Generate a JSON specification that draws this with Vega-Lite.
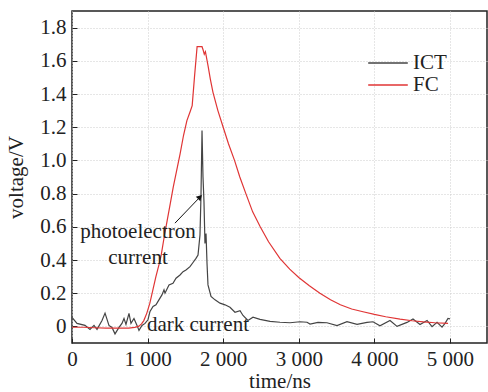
{
  "$schema": "https://vega.github.io/schema/vega-lite/v6.json",
  "width": 415,
  "height": 332,
  "autosize": {"type": "none"},
  "padding": {"left": 72, "top": 11, "right": 1, "bottom": 49},
  "background": "white",
  "config": {
    "font": "Times New Roman, Liberation Serif, serif",
    "view": {"stroke": "#222", "strokeWidth": 1.5},
    "axis": {
      "labelFont": "Times New Roman, Liberation Serif, serif",
      "titleFont": "Times New Roman, Liberation Serif, serif",
      "labelFontSize": 21,
      "titleFontSize": 21,
      "titleFontWeight": "normal",
      "labelColor": "#222",
      "titleColor": "#222",
      "labelOverlap": false,
      "labelFlush": false,
      "domain": false,
      "tickColor": "#222",
      "tickSize": -5,
      "gridColor": "#cccccc",
      "gridDash": [1, 2],
      "gridWidth": 1
    },
    "legend": {
      "labelFont": "Times New Roman, Liberation Serif, serif",
      "labelFontSize": 21,
      "labelColor": "#222"
    }
  },
  "datasets": {
    "curves": [
      {"t": 0, "v": 0.054, "s": "ICT"},
      {"t": 66, "v": 0.018, "s": "ICT"},
      {"t": 172, "v": 0.006, "s": "ICT"},
      {"t": 238, "v": -0.018, "s": "ICT"},
      {"t": 291, "v": 0.006, "s": "ICT"},
      {"t": 331, "v": -0.018, "s": "ICT"},
      {"t": 397, "v": 0.036, "s": "ICT"},
      {"t": 437, "v": 0.08, "s": "ICT"},
      {"t": 489, "v": 0.006, "s": "ICT"},
      {"t": 529, "v": -0.006, "s": "ICT"},
      {"t": 569, "v": -0.045, "s": "ICT"},
      {"t": 622, "v": -0.006, "s": "ICT"},
      {"t": 661, "v": 0.018, "s": "ICT"},
      {"t": 688, "v": 0.048, "s": "ICT"},
      {"t": 714, "v": 0.012, "s": "ICT"},
      {"t": 754, "v": 0.078, "s": "ICT"},
      {"t": 780, "v": 0.018, "s": "ICT"},
      {"t": 820, "v": 0.048, "s": "ICT"},
      {"t": 860, "v": 0.006, "s": "ICT"},
      {"t": 886, "v": -0.024, "s": "ICT"},
      {"t": 926, "v": 0.006, "s": "ICT"},
      {"t": 966, "v": 0.018, "s": "ICT"},
      {"t": 1005, "v": 0.04, "s": "ICT"},
      {"t": 1032, "v": 0.09, "s": "ICT"},
      {"t": 1072, "v": 0.12, "s": "ICT"},
      {"t": 1111, "v": 0.13, "s": "ICT"},
      {"t": 1150, "v": 0.16, "s": "ICT"},
      {"t": 1190, "v": 0.19, "s": "ICT"},
      {"t": 1217, "v": 0.22, "s": "ICT"},
      {"t": 1230, "v": 0.2, "s": "ICT"},
      {"t": 1283, "v": 0.25, "s": "ICT"},
      {"t": 1336, "v": 0.26, "s": "ICT"},
      {"t": 1376, "v": 0.29, "s": "ICT"},
      {"t": 1429, "v": 0.31, "s": "ICT"},
      {"t": 1469, "v": 0.33, "s": "ICT"},
      {"t": 1508, "v": 0.34, "s": "ICT"},
      {"t": 1561, "v": 0.36, "s": "ICT"},
      {"t": 1601, "v": 0.385, "s": "ICT"},
      {"t": 1640, "v": 0.41, "s": "ICT"},
      {"t": 1667, "v": 0.43, "s": "ICT"},
      {"t": 1693, "v": 0.55, "s": "ICT"},
      {"t": 1706, "v": 0.78, "s": "ICT"},
      {"t": 1720, "v": 1.18, "s": "ICT"},
      {"t": 1733, "v": 0.9, "s": "ICT"},
      {"t": 1746, "v": 0.75, "s": "ICT"},
      {"t": 1759, "v": 0.5, "s": "ICT"},
      {"t": 1773, "v": 0.56, "s": "ICT"},
      {"t": 1786, "v": 0.38, "s": "ICT"},
      {"t": 1799, "v": 0.25, "s": "ICT"},
      {"t": 1839, "v": 0.18, "s": "ICT"},
      {"t": 1892, "v": 0.16, "s": "ICT"},
      {"t": 1958, "v": 0.14, "s": "ICT"},
      {"t": 2024, "v": 0.13, "s": "ICT"},
      {"t": 2090, "v": 0.115, "s": "ICT"},
      {"t": 2156, "v": 0.085, "s": "ICT"},
      {"t": 2223, "v": 0.095, "s": "ICT"},
      {"t": 2262, "v": 0.066, "s": "ICT"},
      {"t": 2328, "v": 0.036, "s": "ICT"},
      {"t": 2394, "v": 0.055, "s": "ICT"},
      {"t": 2487, "v": 0.042, "s": "ICT"},
      {"t": 2620, "v": 0.03, "s": "ICT"},
      {"t": 2752, "v": 0.025, "s": "ICT"},
      {"t": 2884, "v": 0.022, "s": "ICT"},
      {"t": 3016, "v": 0.028, "s": "ICT"},
      {"t": 3109, "v": 0.025, "s": "ICT"},
      {"t": 3149, "v": 0.014, "s": "ICT"},
      {"t": 3255, "v": 0.024, "s": "ICT"},
      {"t": 3373, "v": 0.022, "s": "ICT"},
      {"t": 3506, "v": 0.005, "s": "ICT"},
      {"t": 3638, "v": 0.028, "s": "ICT"},
      {"t": 3771, "v": 0.012, "s": "ICT"},
      {"t": 3903, "v": 0.024, "s": "ICT"},
      {"t": 3982, "v": 0.028, "s": "ICT"},
      {"t": 4074, "v": 0.004, "s": "ICT"},
      {"t": 4207, "v": 0.036, "s": "ICT"},
      {"t": 4300, "v": 0.0, "s": "ICT"},
      {"t": 4432, "v": 0.024, "s": "ICT"},
      {"t": 4511, "v": 0.045, "s": "ICT"},
      {"t": 4604, "v": 0.012, "s": "ICT"},
      {"t": 4697, "v": 0.036, "s": "ICT"},
      {"t": 4763, "v": -0.002, "s": "ICT"},
      {"t": 4829, "v": 0.024, "s": "ICT"},
      {"t": 4895, "v": -0.005, "s": "ICT"},
      {"t": 4935, "v": 0.018, "s": "ICT"},
      {"t": 4974, "v": 0.048, "s": "ICT"},
      {"t": 5000, "v": 0.045, "s": "ICT"},
      {"t": 0, "v": -0.005, "s": "FC"},
      {"t": 150, "v": -0.005, "s": "FC"},
      {"t": 300, "v": -0.008, "s": "FC"},
      {"t": 450, "v": -0.01, "s": "FC"},
      {"t": 600, "v": -0.01, "s": "FC"},
      {"t": 750, "v": -0.01, "s": "FC"},
      {"t": 830, "v": -0.006, "s": "FC"},
      {"t": 880, "v": 0.0, "s": "FC"},
      {"t": 920, "v": 0.015, "s": "FC"},
      {"t": 950, "v": 0.035, "s": "FC"},
      {"t": 990, "v": 0.08, "s": "FC"},
      {"t": 1030, "v": 0.14, "s": "FC"},
      {"t": 1070, "v": 0.22, "s": "FC"},
      {"t": 1110, "v": 0.3, "s": "FC"},
      {"t": 1150, "v": 0.37, "s": "FC"},
      {"t": 1180, "v": 0.43, "s": "FC"},
      {"t": 1220, "v": 0.54, "s": "FC"},
      {"t": 1260, "v": 0.64, "s": "FC"},
      {"t": 1300, "v": 0.74, "s": "FC"},
      {"t": 1340, "v": 0.84, "s": "FC"},
      {"t": 1385, "v": 0.94, "s": "FC"},
      {"t": 1430, "v": 1.04, "s": "FC"},
      {"t": 1475, "v": 1.15, "s": "FC"},
      {"t": 1520, "v": 1.24, "s": "FC"},
      {"t": 1560, "v": 1.29, "s": "FC"},
      {"t": 1590, "v": 1.33, "s": "FC"},
      {"t": 1620, "v": 1.5, "s": "FC"},
      {"t": 1655, "v": 1.685, "s": "FC"},
      {"t": 1720, "v": 1.685, "s": "FC"},
      {"t": 1735, "v": 1.665, "s": "FC"},
      {"t": 1750, "v": 1.64, "s": "FC"},
      {"t": 1765, "v": 1.655, "s": "FC"},
      {"t": 1800, "v": 1.57, "s": "FC"},
      {"t": 1830, "v": 1.49, "s": "FC"},
      {"t": 1865, "v": 1.41, "s": "FC"},
      {"t": 1930, "v": 1.3, "s": "FC"},
      {"t": 2000, "v": 1.2, "s": "FC"},
      {"t": 2070, "v": 1.1, "s": "FC"},
      {"t": 2150, "v": 1.0, "s": "FC"},
      {"t": 2220, "v": 0.9, "s": "FC"},
      {"t": 2300, "v": 0.8, "s": "FC"},
      {"t": 2390, "v": 0.69, "s": "FC"},
      {"t": 2490, "v": 0.6, "s": "FC"},
      {"t": 2600, "v": 0.51, "s": "FC"},
      {"t": 2750, "v": 0.41, "s": "FC"},
      {"t": 2880, "v": 0.345, "s": "FC"},
      {"t": 3000, "v": 0.295, "s": "FC"},
      {"t": 3140, "v": 0.245, "s": "FC"},
      {"t": 3280, "v": 0.2, "s": "FC"},
      {"t": 3420, "v": 0.16, "s": "FC"},
      {"t": 3550, "v": 0.13, "s": "FC"},
      {"t": 3700, "v": 0.105, "s": "FC"},
      {"t": 3850, "v": 0.088, "s": "FC"},
      {"t": 4000, "v": 0.072, "s": "FC"},
      {"t": 4150, "v": 0.058, "s": "FC"},
      {"t": 4340, "v": 0.044, "s": "FC"},
      {"t": 4500, "v": 0.034, "s": "FC"},
      {"t": 4650, "v": 0.027, "s": "FC"},
      {"t": 4800, "v": 0.022, "s": "FC"},
      {"t": 4975, "v": 0.018, "s": "FC"}
    ],
    "labels": [
      {"t": 873, "v": 0.568, "txt": "photoelectron"},
      {"t": 873, "v": 0.41, "txt": "current"}
    ],
    "dark": [
      {"t": 992, "v": 0.006, "txt": "dark current"}
    ],
    "arrow": [
      {"t": 1362, "v": 0.622, "t2": 1693, "v2": 0.779}
    ],
    "arrowhead": [
      {"t": 1693, "v": 0.779}
    ]
  },
  "encoding": {
    "x": {
      "field": "t", "type": "quantitative",
      "scale": {"domain": [0, 5490], "nice": false, "zero": false},
      "axis": {
        "title": "time/ns",
        "values": [0, 1000, 2000, 3000, 4000, 5000],
        "labelExpr": "replace(format(datum.value, ',d'), ',', ' ')",
        "labelOverlap": false,
        "labelPadding": 10,
        "titlePadding": 1,
        "grid": true
      }
    },
    "y": {
      "field": "v", "type": "quantitative",
      "scale": {"domain": [-0.1, 1.9], "nice": false, "zero": false},
      "axis": {
        "title": "voltage/V",
        "values": [0, 0.2, 0.4, 0.6, 0.8, 1.0, 1.2, 1.4, 1.6, 1.8],
        "labelExpr": "abs(datum.value) < 1e-9 ? '0' : format(datum.value, '.1f')",
        "labelOverlap": false,
        "labelSeparation": 0,
        "labelPadding": 11,
        "titlePadding": 13,
        "grid": true
      }
    }
  },
  "layer": [
    {
      "data": {"name": "curves"},
      "mark": {"type": "line", "strokeWidth": 1.2},
      "encoding": {
        "color": {
          "field": "s", "type": "nominal",
          "scale": {"domain": ["ICT", "FC"], "range": ["#444444", "#e03535"]},
          "legend": {
            "title": null,
            "orient": "none",
            "legendX": 304,
            "legendY": 40,
            "padding": 0,
            "symbolType": "M-1.8,0H1.8",
            "symbolSize": 484,
            "symbolStrokeWidth": 1.5,
            "labelOffset": 13,
            "rowPadding": -4
          }
        },
        "order": {"field": "t", "type": "quantitative"}
      }
    },
    {
      "data": {"name": "labels"},
      "mark": {"type": "text", "fontSize": 21, "align": "center", "color": "#222", "baseline": "middle"},
      "encoding": {
        "text": {"field": "txt"}
      }
    },
    {
      "data": {"name": "dark"},
      "mark": {"type": "text", "fontSize": 21, "align": "left", "color": "#222", "baseline": "middle"},
      "encoding": {
        "text": {"field": "txt"}
      }
    },
    {
      "data": {"name": "arrow"},
      "mark": {"type": "rule", "color": "#111", "strokeWidth": 1},
      "encoding": {
        "x2": {"field": "t2"},
        "y2": {"field": "v2"}
      }
    },
    {
      "data": {"name": "arrowhead"},
      "mark": {"type": "point", "shape": "triangle-up", "filled": true, "color": "#111", "size": 40, "angle": 44, "opacity": 1},
      "encoding": {}
    }
  ]
}
